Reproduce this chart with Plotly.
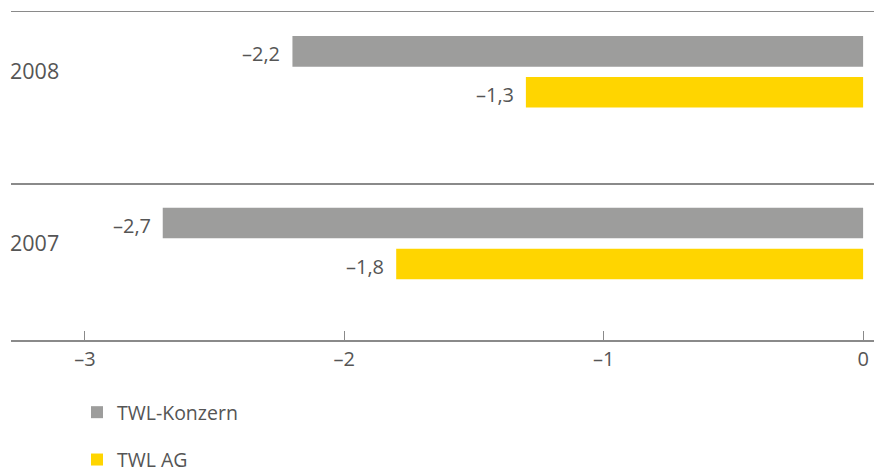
import plotly.graph_objects as go

years = ["2008", "2007"]
konzern = [-2.2, -2.7]
ag = [-1.3, -1.8]
series_names = ["TWL-Konzern", "TWL AG"]
x_ticks = [-3, -2, -1, 0]
x_ticktext = ["–3", "–2", "–1", "0"]

GRAY = "#9d9d9c"
YELLOW = "#ffd500"
LINE = "#8a8a8a"
TEXT = "#555555"
FONT = "Open Sans"

cat_order = ["2007", "2008"]

def fmt(v):
    s = f"{abs(v):.1f}".replace(".", ",")
    return ("–" + s) if v < 0 else s

BW = 0.178
fig = go.Figure()
fig.add_trace(go.Bar(
    y=years, x=konzern, orientation="h", name=series_names[0],
    marker=dict(color=GRAY, line=dict(width=0)),
    width=BW, offset=0.031, legendgroup="a",
))
fig.add_trace(go.Bar(
    y=years, x=ag, orientation="h", name=series_names[1],
    marker=dict(color=YELLOW, line=dict(width=0)),
    width=BW, offset=-0.031 - BW + 0.002, legendgroup="b",
))

annotations = []
for yr, v in zip(years, konzern):
    annotations.append(dict(x=v, y=cat_order.index(yr), xref="x", yref="y", text=fmt(v),
                            showarrow=False, xanchor="right", yanchor="middle",
                            xshift=-10, yshift=20.5 - 2,
                            font=dict(family=FONT, size=20, color=TEXT)))
for yr, v in zip(years, ag):
    annotations.append(dict(x=v, y=cat_order.index(yr), xref="x", yref="y", text=fmt(v),
                            showarrow=False, xanchor="right", yanchor="middle",
                            xshift=-10, yshift=-20.5 - 2,
                            font=dict(family=FONT, size=20, color=TEXT)))

shapes = []
for yv in [1.355, 0.348]:
    shapes.append(dict(type="line", xref="paper", yref="y", x0=0, x1=1,
                       y0=yv, y1=yv, line=dict(color=LINE, width=2)))

fig.update_layout(
    width=874, height=470,
    margin=dict(l=11, r=0, t=11, b=130, autoexpand=False),
    paper_bgcolor="white", plot_bgcolor="white",
    barmode="overlay",
    font=dict(family=FONT, size=20, color=TEXT),
    annotations=annotations, shapes=shapes,
    showlegend=True,
    legend=dict(
        orientation="v", xref="container", yref="container",
        x=77 / 874, y=1 - 393 / 470, xanchor="left", yanchor="top",
        tracegroupgap=19, font=dict(family=FONT, size=19.5, color=TEXT),
        bgcolor="rgba(0,0,0,0)", traceorder="grouped",
    ),
    xaxis=dict(
        range=[-3.285, 0.042], tickvals=x_ticks, ticktext=x_ticktext,
        showgrid=False, zeroline=False, showline=True, linecolor=LINE,
        linewidth=2, ticks="inside", ticklen=9, tickcolor=LINE, tickwidth=1,
        tickfont=dict(family=FONT, size=20, color=TEXT), fixedrange=True,
        automargin=False,
    ),
    yaxis=dict(
        type="category", categoryorder="array", categoryarray=cat_order,
        range=[-0.561, 1.355], showgrid=False, zeroline=False, showline=False,
        ticks="", ticklabelposition="inside", ticklabelstandoff=-4,
        tickfont=dict(family=FONT, size=21.5, color=TEXT), fixedrange=True,
        automargin=False,
    ),
)

fig.write_html("out.html")
